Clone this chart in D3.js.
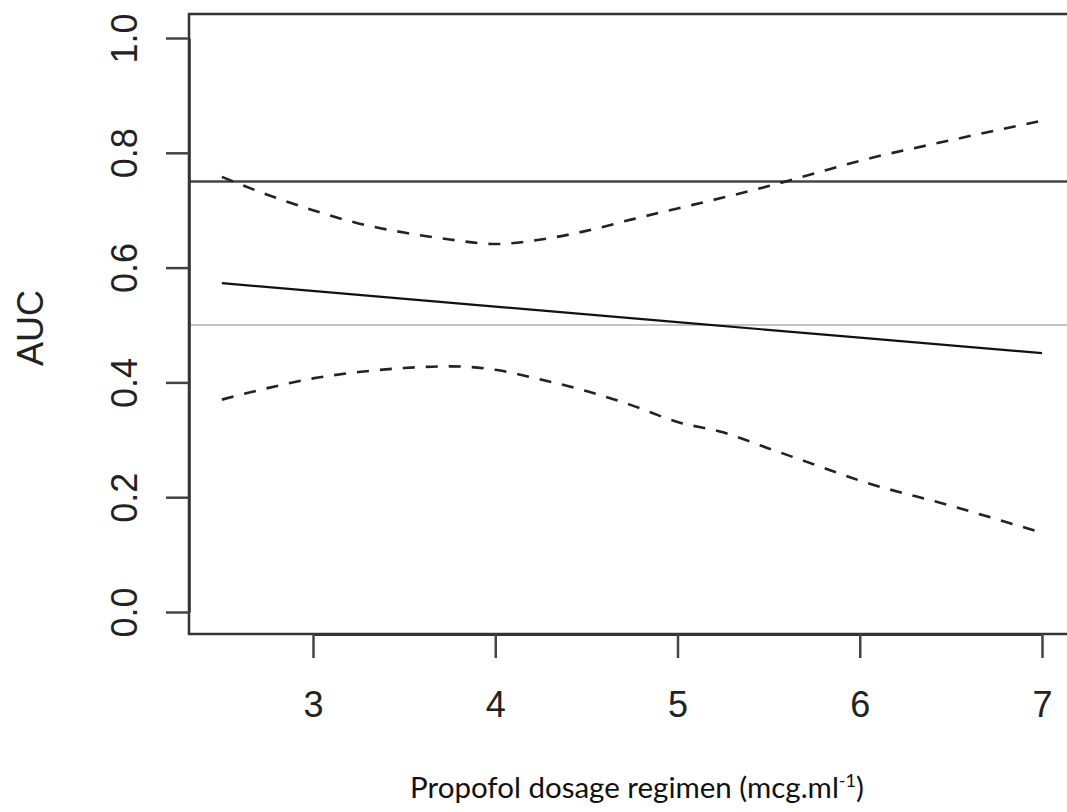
<!DOCTYPE html>
<html>
<head>
<meta charset="utf-8">
<script src="https://cdn.jsdelivr.net/npm/d3@7"></script>
<style>
html,body{margin:0;padding:0;background:#fff;}
svg{display:block;}
</style>
</head>
<body>
<svg id="chart" width="1067" height="812"></svg>
<script>
// ---- data ----
const xGrid = [2.5, 2.75, 3.0, 3.25, 3.5, 3.75, 4.0, 4.25, 4.5, 4.75, 5.0, 5.25, 5.5, 5.75, 6.0, 6.5, 7.0];
const upperCI = [0.758, 0.727, 0.700, 0.677, 0.661, 0.649, 0.641, 0.649, 0.664, 0.684, 0.703, 0.722, 0.742, 0.764, 0.786, 0.822, 0.856];
const lowerCI = [0.370, 0.390, 0.407, 0.418, 0.425, 0.428, 0.422, 0.405, 0.385, 0.360, 0.331, 0.313, 0.285, 0.257, 0.229, 0.185, 0.138];
const aucX = [2.5, 4.0, 5.0, 6.0, 7.0];
const aucY = [0.573, 0.532, 0.505, 0.478, 0.451];
const refHigh = 0.75;
const refChance = 0.5;
const xTicks = [3, 4, 5, 6, 7];
const yTicks = [0.0, 0.2, 0.4, 0.6, 0.8, 1.0];
const yTickLabels = ["0.0", "0.2", "0.4", "0.6", "0.8", "1.0"];

// ---- layout ----
const svg = d3.select("#chart");
const box = {left: 189, top: 14, right: 1080, bottom: 634};
const x = d3.scaleLinear().domain([3, 7]).range([313, 1042]);
const y = d3.scaleLinear().domain([0, 1]).range([612, 38]);

// reference lines
svg.append("line")
  .attr("x1", box.left).attr("x2", box.right)
  .attr("y1", y(refChance)).attr("y2", y(refChance))
  .attr("stroke", "#c4c4c4").attr("stroke-width", 2);
svg.append("line")
  .attr("x1", box.left).attr("x2", box.right)
  .attr("y1", y(refHigh)).attr("y2", y(refHigh))
  .attr("stroke", "#444").attr("stroke-width", 2.5);

const line = d3.line().x(d => x(d[0])).y(d => y(d[1])).curve(d3.curveMonotoneX);

svg.append("path")
  .datum(xGrid.map((v, i) => [v, upperCI[i]]))
  .attr("d", line).attr("fill", "none")
  .attr("stroke", "#222").attr("stroke-width", 2.6)
  .attr("stroke-dasharray", "12,11");
svg.append("path")
  .datum(xGrid.map((v, i) => [v, lowerCI[i]]))
  .attr("d", line).attr("fill", "none")
  .attr("stroke", "#222").attr("stroke-width", 2.6)
  .attr("stroke-dasharray", "12,11");
svg.append("path")
  .datum(aucX.map((v, i) => [v, aucY[i]]))
  .attr("d", d3.line().x(d => x(d[0])).y(d => y(d[1])))
  .attr("fill", "none").attr("stroke", "#111").attr("stroke-width", 2.2);

// box
svg.append("rect")
  .attr("x", box.left).attr("y", box.top)
  .attr("width", box.right - box.left).attr("height", box.bottom - box.top)
  .attr("fill", "none").attr("stroke", "#333").attr("stroke-width", 2.5);

// axes
const fontAxis = "'Liberation Sans', Arial, sans-serif";
const gx = svg.append("g").attr("transform", `translate(0,${box.bottom})`)
  .call(d3.axisBottom(x).tickValues(xTicks).tickFormat(d3.format("d")).tickSize(24).tickSizeOuter(0));
gx.select(".domain").attr("stroke", "#333").attr("stroke-width", 3);
gx.selectAll(".tick line").attr("stroke", "#444").attr("stroke-width", 2.5);
gx.selectAll(".tick text")
  .attr("font-family", fontAxis).attr("font-size", 36).attr("fill", "#222")
  .attr("dy", null).attr("y", 83);

const gy = svg.append("g").attr("transform", `translate(${box.left},0)`)
  .call(d3.axisLeft(y).tickValues(yTicks).tickFormat((d, i) => yTickLabels[i]).tickSize(23).tickSizeOuter(0));
gy.select(".domain").attr("stroke", "#333").attr("stroke-width", 2.5);
gy.selectAll(".tick line").attr("stroke", "#444").attr("stroke-width", 2.5);
gy.selectAll(".tick text")
  .attr("font-family", fontAxis).attr("font-size", 36).attr("fill", "#222")
  .attr("x", null).attr("dy", null)
  .attr("text-anchor", "middle")
  .attr("transform", "translate(-52,0) rotate(-90)");

// axis titles
svg.append("text")
  .attr("transform", `translate(43,${(box.top + box.bottom) / 2 + 4}) rotate(-90)`)
  .attr("text-anchor", "middle")
  .attr("font-family", fontAxis).attr("font-size", 36).attr("fill", "#222")
  .text("AUC");

const xt = svg.append("text")
  .attr("x", 637).attr("y", 798)
  .attr("text-anchor", "middle")
  .attr("font-family", "Lato, 'Open Sans', sans-serif").attr("font-size", 29.5).attr("fill", "#111");
xt.append("tspan").text("Propofol dosage regimen (mcg.ml");
xt.append("tspan").attr("dy", -11).attr("font-size", 18).text("-1");
xt.append("tspan").attr("dy", 11).text(")");
</script>
</body>
</html>
